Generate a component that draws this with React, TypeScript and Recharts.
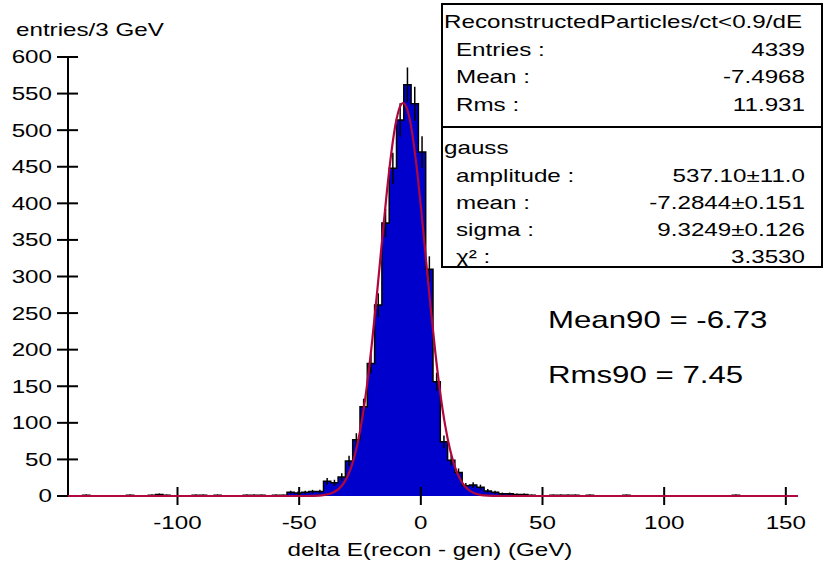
import React from "react";
import { ComposedChart, Area, Line, Scatter, ErrorBar, XAxis, YAxis } from "recharts";

const FONT = "'Liberation Sans', Arial, Helvetica, sans-serif";
const W = 825;
const H = 567;

// histogram: 100 bins of 3 GeV starting at -145
const HIST_MIN = -145;
const BIN_WIDTH = 3;
const binCounts = [
  0, 0, 1, 0, 0, 0, 0, 0, 1, 0,
  0, 1, 2, 1, 0, 0, 0, 1, 1, 0,
  1, 0, 0, 0, 1, 1, 1, 0, 1, 1,
  5, 4, 5, 6, 6, 20, 18, 26, 48, 77,
  122, 181, 261, 373, 448, 514, 562, 536, 470, 310,
  156, 74, 49, 32, 14, 15, 12, 7, 5, 3,
  3, 2, 2, 1, 0, 0, 1, 1, 1, 1,
  0, 1, 0, 0, 0, 0, 1, 0, 0, 0,
  0, 0, 0, 0, 0, 0, 0, 0, 0, 0,
  0, 1, 0, 0, 0, 0, 0, 0, 0, 0,
];
const binErrors = [
  0, 0, 1, 0, 0, 0, 0, 0, 1, 0,
  0, 1, 1.4, 1, 0, 0, 0, 1, 1, 0,
  1, 0, 0, 0, 1, 1, 1, 0, 1, 1,
  2.2, 2, 2.2, 2.4, 2.4, 4.5, 4.2, 5.1, 6.9, 8.8,
  11, 13.5, 16.2, 19.3, 21.2, 22.7, 23.7, 23.2, 21.7, 17.6,
  12.5, 8.6, 7, 5.7, 3.7, 3.9, 3.5, 2.6, 2.2, 1.7,
  1.7, 1.4, 1.4, 1, 0, 0, 1, 1, 1, 1,
  0, 1, 0, 0, 0, 0, 1, 0, 0, 0,
  0, 0, 0, 0, 0, 0, 0, 0, 0, 0,
  0, 1, 0, 0, 0, 0, 0, 0, 0, 0,
];

// gauss fit curve
const gaussX = [-145, -48, -44, -40, -36, -32, -30, -28, -26, -24, -22, -20, -18, -16, -14, -12, -10, -8, -7.3, -6, -4, -2, 0, 2, 4, 6, 8, 10, 12, 14, 16, 18, 20, 22, 24, 26, 30, 34, 155];
const gaussY = [0, 0, 0.2, 1.1, 4.7, 16, 27.6, 45.5, 71.6, 107.6, 154.5, 211.9, 277.4, 346.9, 414.3, 472.5, 514.8, 535.5, 537.1, 532.1, 504.9, 457.6, 396, 327.3, 258.4, 194.8, 140.3, 96.5, 63.4, 39.8, 23.8, 13.6, 7.4, 3.9, 1.9, 0.9, 0.2, 0, 0];

const xTicks = [-100, -50, 0, 50, 100, 150];
const yTicks = [0, 50, 100, 150, 200, 250, 300, 350, 400, 450, 500, 550, 600];

const statsTop = [
  ["Entries :", "4339"],
  ["Mean :", "-7.4968"],
  ["Rms :", "11.931"],
];
const statsFit = [
  ["amplitude :", "537.10±11.0"],
  ["mean :", "-7.2844±0.151"],
  ["sigma :", "9.3249±0.126"],
  ["χ² :", "3.3530"],
];

const histData = binCounts.map((c, i) => ({ x: HIST_MIN + i * BIN_WIDTH, count: c }));
histData.push({ x: HIST_MIN + binCounts.length * BIN_WIDTH, count: binCounts[binCounts.length - 1] });
const errData = binCounts
  .map((c, i) => ({ x: HIST_MIN + (i + 0.5) * BIN_WIDTH, count: c, err: binErrors[i] }))
  .filter((d) => d.count > 0);
const gaussData = gaussX.map((x, i) => ({ x, fit: gaussY[i] }));

const YTick = (props: any) => {
  const { x, y, payload } = props;
  return (
    <g>
      <line x1={x - 11} x2={x + 10} y1={y} y2={y} stroke="#000" strokeWidth={2} />
      <text
        transform={`translate(${x - 16},${y}) scale(1.3,1)`}
        textAnchor="end"
        dominantBaseline="central"
        fontSize={18.6}
        fontFamily={FONT}
        fill="#000"
      >
        {payload.value}
      </text>
    </g>
  );
};

const XTick = (props: any) => {
  const { x, y, payload } = props;
  return (
    <g>
      <line x1={x} x2={x} y1={y - 9} y2={y + 9} stroke="#000" strokeWidth={2} />
      <text
        transform={`translate(${x},${y + 27}) scale(1.3,1)`}
        textAnchor="middle"
        dominantBaseline="central"
        fontSize={18.6}
        fontFamily={FONT}
        fill="#000"
      >
        {payload.value}
      </text>
    </g>
  );
};

function Txt({ x, y, anchor = "start", size = 18.6, children }: any) {
  const box = 800;
  const left = anchor === "start" ? x : anchor === "end" ? x - box : x - box / 2;
  const origin = anchor === "start" ? "left center" : anchor === "end" ? "right center" : "center center";
  return (
    <div
      style={{
        position: "absolute",
        left,
        top: y - size * 0.6,
        width: box,
        height: size * 1.2,
        lineHeight: `${size * 1.2}px`,
        fontSize: size,
        fontFamily: FONT,
        color: "#000",
        whiteSpace: "nowrap",
        textAlign: anchor === "start" ? "left" : anchor === "end" ? "right" : "center",
        transform: "scaleX(1.3)",
        transformOrigin: origin,
        pointerEvents: "none",
      }}
    >
      {children}
    </div>
  );
}

export default function App() {
  return (
    <div style={{ position: "absolute", left: 0, top: 0, width: W, height: H, background: "#fff", overflow: "hidden" }}>
      <ComposedChart width={W} height={H} margin={{ top: 57, right: 27, bottom: 0, left: 0 }}>
        <XAxis
          type="number"
          dataKey="x"
          domain={[-145, 155]}
          ticks={xTicks}
          height={71}
          tickSize={0}
          tickMargin={0}
          tickLine={false}
          axisLine={false}
          tick={<XTick />}
          interval={0}
        />
        <YAxis
          type="number"
          domain={[0, 600]}
          ticks={yTicks}
          width={68}
          tickSize={0}
          tickMargin={0}
          tickLine={false}
          axisLine={{ stroke: "#000", strokeWidth: 2 }}
          tick={<YTick />}
          interval={0}
        />
        <Area
          data={histData}
          dataKey="count"
          type="stepAfter"
          fill="#0000cc"
          fillOpacity={1}
          stroke="#000"
          strokeWidth={1.5}
          isAnimationActive={false}
        />
        <Scatter data={errData} dataKey="count" shape={() => <g />} isAnimationActive={false}>
          <ErrorBar dataKey="err" direction="y" width={0} stroke="#000" strokeWidth={1.5} />
        </Scatter>
        <Line
          data={gaussData}
          dataKey="fit"
          type="monotone"
          stroke="#b0083c"
          strokeWidth={2.2}
          dot={false}
          zIndex={2000}
          isAnimationActive={false}
        />
      </ComposedChart>

      <Txt x={16} y={30}>entries/3 GeV</Txt>
      <Txt x={430} y={550} anchor="middle">delta E(recon - gen) (GeV)</Txt>

      <div
        style={{
          position: "absolute",
          left: 441,
          top: 3,
          width: 823 - 441,
          height: 268 - 3,
          border: "2px solid #000",
          boxSizing: "border-box",
          background: "#fff",
        }}
      />
      <div style={{ position: "absolute", left: 441, top: 126, width: 823 - 441, height: 2, background: "#000" }} />
      <Txt x={444} y={22}>ReconstructedParticles/ct&lt;0.9/dE</Txt>
      {statsTop.map(([k, v], i) => (
        <React.Fragment key={k}>
          <Txt x={456} y={50 + i * 27.5}>{k}</Txt>
          <Txt x={805} y={50 + i * 27.5} anchor="end">{v}</Txt>
        </React.Fragment>
      ))}
      <Txt x={444} y={148}>gauss</Txt>
      {statsFit.map(([k, v], i) => (
        <React.Fragment key={k}>
          <Txt x={456} y={176 + i * 27} anchor="start">{k}</Txt>
          <Txt x={805} y={176 + i * 27} anchor="end">{v}</Txt>
        </React.Fragment>
      ))}

      <Txt x={548} y={320} size={24}>Mean90 = -6.73</Txt>
      <Txt x={548} y={375} size={24}>Rms90 = 7.45</Txt>
    </div>
  );
}
